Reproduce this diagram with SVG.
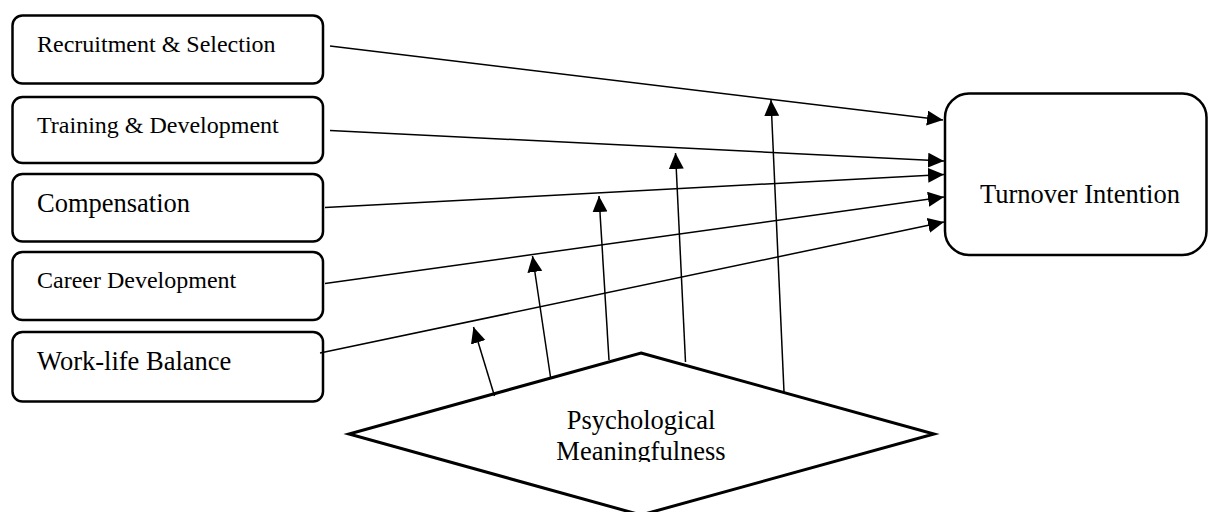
<svg xmlns="http://www.w3.org/2000/svg" width="1208" height="512" viewBox="0 0 1208 512">
<style>
.box{fill:#fff;stroke:#000;stroke-width:2.5}
.lbl{font-family:"Liberation Serif","Times New Roman",serif;fill:#000}
.s{font-size:24px}
.l{font-size:26.5px}
.con line{stroke:#000;stroke-width:1.5;fill:none}
</style>
<defs>
<marker id="ah" markerUnits="userSpaceOnUse" markerWidth="17" markerHeight="16" refX="16" refY="7.5" orient="auto">
<path d="M0,0 L16,7.5 L0,15 Z" fill="#000"/>
</marker>
<clipPath id="pmclip"><rect x="0" y="0" width="1208" height="462"/></clipPath>
</defs>
<rect width="1208" height="512" fill="#fff"/>
<g id="n-recruitment">
<rect class="box" x="12.5" y="15.5" width="310.5" height="68" rx="10"/>
<text class="lbl s" x="37" y="52">Recruitment &amp; Selection</text>
</g>
<g id="n-training">
<rect class="box" x="12.5" y="97" width="310.5" height="66" rx="10"/>
<text class="lbl s" x="37" y="133">Training &amp; Development</text>
</g>
<g id="n-compensation">
<rect class="box" x="12.5" y="174" width="310.5" height="67.5" rx="10"/>
<text class="lbl l" x="37" y="212">Compensation</text>
</g>
<g id="n-career">
<rect class="box" x="12.5" y="252" width="310.5" height="68" rx="10"/>
<text class="lbl s" x="37" y="288">Career Development</text>
</g>
<g id="n-worklife">
<rect class="box" x="12.5" y="332" width="310.5" height="69.5" rx="10"/>
<text class="lbl l" x="37" y="370">Work-life Balance</text>
</g>
<g id="n-turnover">
<rect class="box" x="945" y="93.5" width="261.5" height="161.5" rx="24"/>
<text class="lbl l" x="980" y="203">Turnover Intention</text>
</g>
<g id="n-psych">
<polygon points="641,353 934,434 641,515 349,434" fill="#fff" stroke="#000" stroke-width="3" stroke-linejoin="miter"/>
<g clip-path="url(#pmclip)">
<text class="lbl l" x="641" y="429" text-anchor="middle">Psychological</text>
<text class="lbl l" x="641" y="460" text-anchor="middle">Meaningfulness</text>
</g>
</g>
<g id="connectors" class="con">
<line x1="330" y1="46" x2="943" y2="120" marker-end="url(#ah)"/>
<line x1="330" y1="130.5" x2="944" y2="161" marker-end="url(#ah)"/>
<line x1="325" y1="207.5" x2="944" y2="174.5" marker-end="url(#ah)"/>
<line x1="325" y1="283.5" x2="944" y2="197" marker-end="url(#ah)"/>
<line x1="320" y1="353" x2="944" y2="222" marker-end="url(#ah)"/>
<line x1="494.5" y1="396" x2="473.5" y2="327" marker-end="url(#ah)"/>
<line x1="550.5" y1="377" x2="532.5" y2="256" marker-end="url(#ah)"/>
<line x1="609" y1="360" x2="599" y2="196" marker-end="url(#ah)"/>
<line x1="685.5" y1="362" x2="675.5" y2="153" marker-end="url(#ah)"/>
<line x1="784" y1="392" x2="771" y2="100" marker-end="url(#ah)"/>
</g>
</svg>
